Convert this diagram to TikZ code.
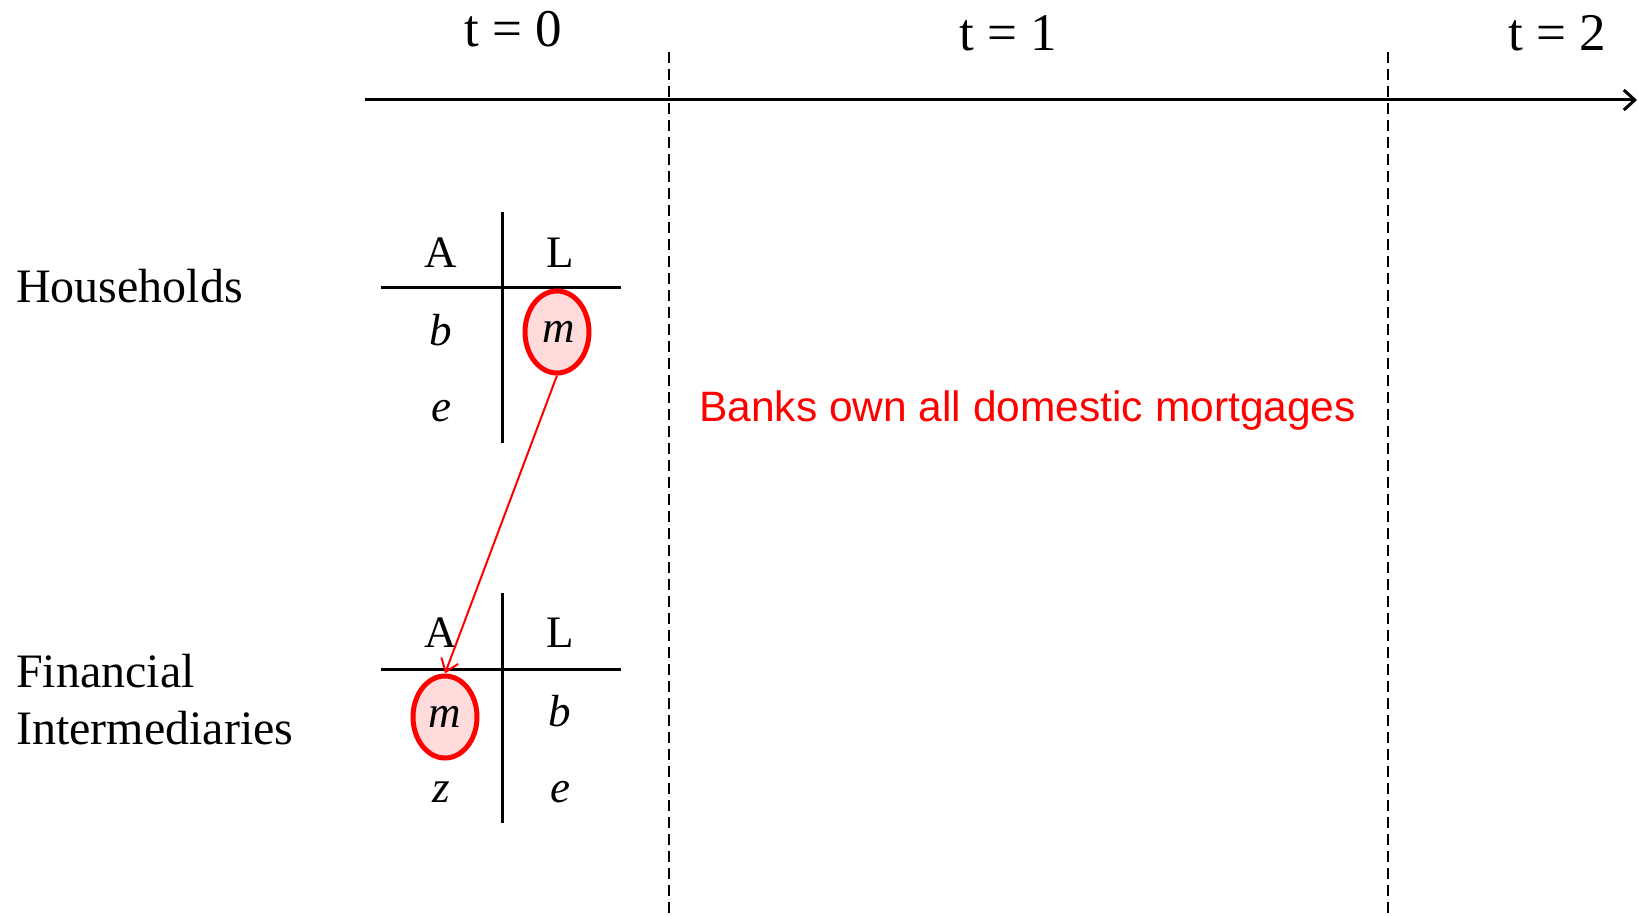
\documentclass[tikz,border=0pt]{standalone}
\usepackage{fontspec}
\setmainfont{Liberation Serif}
\newfontfamily\arialfont{Liberation Sans}
\usetikzlibrary{arrows.meta,shapes.geometric}
\tikzset{
  lbl/.style={inner sep=0pt, font=\fontsize{48}{56}\selectfont},
  hdr/.style={inner sep=0pt, font=\fontsize{45}{54}\selectfont},
  tlbl/.style={inner sep=0pt, font=\fontsize{53}{62}\selectfont},
  ent/.style={inner sep=0pt, font=\fontsize{45}{54}\selectfont\itshape},
  tline/.style={line width=3pt},
  dline/.style={line width=2.5pt, dash pattern=on 11pt off 6pt},
  hl/.style={ellipse, draw=red, line width=5pt, fill=red!14, minimum width=64pt, minimum height=82pt, inner sep=0pt, font=\fontsize{45}{54}\selectfont\itshape},
}
\begin{document}
\begin{tikzpicture}[x=1pt,y=-1pt]
\useasboundingbox (0,0) rectangle (1638,917);
% timeline
\coordinate (tl0) at (365,100);
\coordinate (tl1) at (1637,100);
\draw[tline, -{Straight Barb[length=11pt,width=20pt,line width=3pt]}] (tl0) -- (tl1);
\coordinate (d1a) at (669,52);
\coordinate (d1b) at (669,917);
\coordinate (d2a) at (1388,52);
\coordinate (d2b) at (1388,917);
\draw[dline] (d1a) -- (d1b);
\draw[dline] (d2a) -- (d2b);
\node[tlbl] (t0) at (513,29) {t = 0};
\node[tlbl] (t1) at (1008,33) {t = 1};
\node[tlbl] (t2) at (1557,33) {t = 2};
% row labels
\node[lbl, anchor=west] (hh) at (16,286) {Households};
\node[lbl, anchor=west] (fi1) at (16,671) {Financial};
\node[lbl, anchor=west] (fi2) at (16,728) {Intermediaries};
% household table
\coordinate (hv0) at (502,212);
\coordinate (hv1) at (502,443);
\coordinate (hh0) at (381,288);
\coordinate (hh1) at (621,288);
\draw[tline] (hv0) -- (hv1);
\draw[tline] (hh0) -- (hh1);
\node[hdr] (hA) at (441,253) {A};
\node[hdr] (hL) at (560,253) {L};
\node[ent] (hb) at (441,330) {b};
\node[ent] (he) at (441,411) {e};
\node[hl] (hm) at (557,332) {\hspace{4pt}\raisebox{-4pt}{m}};
% FI table
\coordinate (fv0) at (502,593);
\coordinate (fv1) at (502,823);
\coordinate (fh0) at (381,669);
\coordinate (fh1) at (621,669);
\draw[tline] (fv0) -- (fv1);
\draw[tline] (fh0) -- (fh1);
\node[hdr] (fA) at (441,633) {A};
\node[hdr] (fL) at (560,633) {L};
\node[hl] (fm) at (445,717) {\raisebox{-1pt}{m}\hspace{3pt}};
\node[ent] (fb) at (560,711) {b};
\node[ent] (fz) at (441,792) {z};
\node[ent] (fe) at (560,792) {e};
% arrow
\draw[red, line width=2pt, -{Straight Barb[length=12pt,width=18pt,line width=2pt]}] (hm.south) -- (fm.north);
% note
\node[inner sep=0pt, anchor=west, text=red, font=\arialfont\fontsize{42.5}{50}\selectfont] (note) at (699,411) {Banks own all domestic mortgages};
\end{tikzpicture}
\end{document}
